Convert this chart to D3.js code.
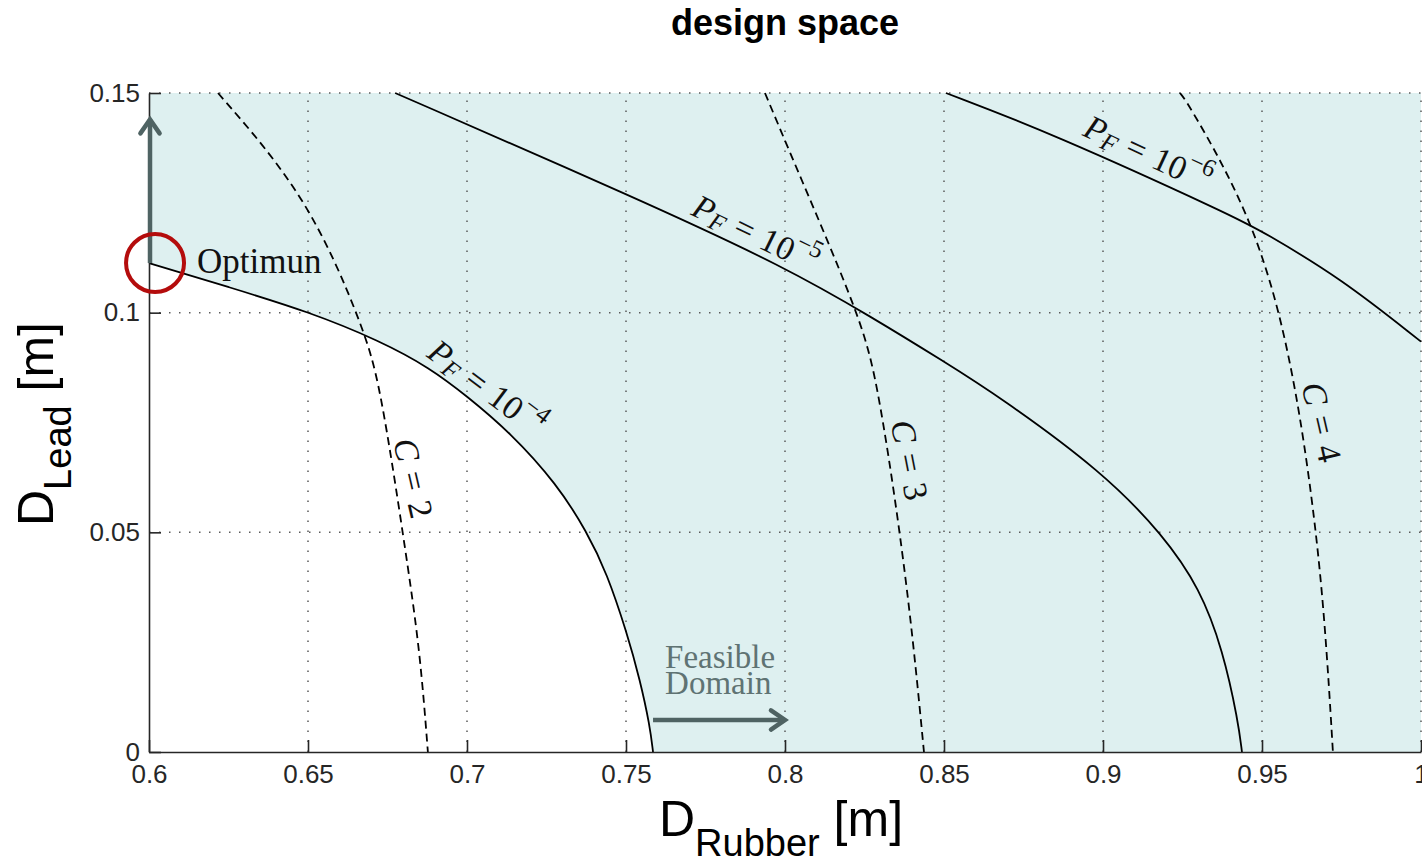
<!DOCTYPE html>
<html>
<head>
<meta charset="utf-8">
<script src="https://cdn.jsdelivr.net/npm/d3@7"></script>
<style>
  body { margin: 0; background: #fff; }
  svg { display: block; }
</style>
</head>
<body>
<div id="chart"></div>
<script>
// tick values and labels
var xTicks = [0.6, 0.65, 0.7, 0.75, 0.8, 0.85, 0.9, 0.95, 1.0];
var xTickLabels = ["0.6", "0.65", "0.7", "0.75", "0.8", "0.85", "0.9", "0.95", "1"];
var yTicks = [0, 0.05, 0.1, 0.15];
var yTickLabels = ["0", "0.05", "0.1", "0.15"];

// failure probability curves [D_rubber, D_lead]
var pf4 = [[0.6, 0.1113], [0.6252, 0.1058], [0.6503, 0.1002], [0.6726, 0.0936], [0.6884, 0.0874],
    [0.7, 0.0810], [0.7135, 0.0728], [0.7283, 0.0610], [0.7377, 0.0501], [0.744, 0.0407],
    [0.7503, 0.0271], [0.7544, 0.0164], [0.7575, 0.0060], [0.7585, 0]];
var pf5 = [[0.6774, 0.15], [0.7544, 0.1257], [0.8, 0.1104], [0.8277, 0.0988], [0.8497, 0.089],
    [0.8676, 0.0808], [0.9, 0.0637], [0.9189, 0.0494], [0.9305, 0.0372], [0.9377, 0.0232],
    [0.9425, 0.0070], [0.9437, 0]];
var pf6 = [[0.8506, 0.15], [0.8833, 0.141], [0.9421, 0.1216], [0.95, 0.1185], [0.9745, 0.108], [1.0, 0.0934]];

// cost curves (dashed)
var c2 = [[0.6217, 0.15], [0.65, 0.1264], [0.6673, 0.0968], [0.6726, 0.0841], [0.6805, 0.0467],
    [0.6852, 0.0232], [0.6877, 0]];
var c3 = [[0.7937, 0.15], [0.8038, 0.1326], [0.8236, 0.0991], [0.8289, 0.0847], [0.8358, 0.0522],
    [0.8403, 0.0255], [0.8437, 0]];
var c4 = [[0.9242, 0.15], [0.9267, 0.1478], [0.9472, 0.1216], [0.9588, 0.0916], [0.966, 0.0574],
    [0.9698, 0.0301], [0.9723, 0]];

// curve labels: [x, y, angle, kind, value]
var curveLabels = [
    [0.7063, 0.0830, 37, "P", "−4"],
    [0.7909, 0.1181, 26, "P", "−5"],
    [0.9142, 0.1364, 25, "P", "−6"],
    [0.6833, 0.0624, 77, "C", "2"],
    [0.8393, 0.0665, 79, "C", "3"],
    [0.9689, 0.0751, 77, "C", "4"]
];

var optimum = [0.6019, 0.1113];

var w = 1422, h = 864;
var svg = d3.select("#chart").append("svg").attr("width", w).attr("height", h);

var x = d3.scaleLinear().domain([0.6, 1.0]).range([149, 1421]);
var y = d3.scaleLinear().domain([0, 0.15]).range([752, 93]);

var line = d3.line().x(d => x(d[0])).y(d => y(d[1])).curve(d3.curveBasis);

// feasible domain shading (above pf4)
svg.append("path")
    .attr("d", line(pf4) + "L" + x(1.0) + "," + y(0) + "L" + x(1.0) + "," + y(0.15) +
        "L" + x(0.6) + "," + y(0.15) + "Z")
    .attr("fill", "#def0f0");

// grid
var grid = svg.append("g").attr("stroke", "#5a5a5a").attr("stroke-width", 1.5).attr("stroke-dasharray", "1.5,8.5");
xTicks.slice(1).forEach(function (t) {
    grid.append("line").attr("x1", x(t)).attr("x2", x(t)).attr("y1", y(0)).attr("y2", y(0.15));
});
yTicks.slice(1).forEach(function (t) {
    grid.append("line").attr("x1", x(0.6)).attr("x2", x(1.0)).attr("y1", y(t)).attr("y2", y(t));
});

// curves
[pf4, pf5, pf6].forEach(function (c) {
    svg.append("path").attr("d", line(c)).attr("fill", "none").attr("stroke", "#000").attr("stroke-width", 1.8);
});
[c2, c3, c4].forEach(function (c) {
    svg.append("path").attr("d", line(c)).attr("fill", "none").attr("stroke", "#000")
        .attr("stroke-width", 1.8).attr("stroke-dasharray", "8,5");
});

// axes
var xAxis = d3.axisBottom(x).tickValues(xTicks).tickFormat((d, i) => xTickLabels[i])
    .tickSizeInner(-12).tickSizeOuter(0).tickPadding(13);
var yAxis = d3.axisLeft(y).tickValues(yTicks).tickFormat((d, i) => yTickLabels[i])
    .tickSizeInner(-12).tickSizeOuter(0).tickPadding(9);

var gx = svg.append("g").attr("transform", "translate(0," + y(0) + ")").call(xAxis);
var gy = svg.append("g").attr("transform", "translate(" + x(0.6) + ",0)").call(yAxis);
[gx, gy].forEach(function (g) {
    g.selectAll("path, line").attr("stroke", "#262626").attr("stroke-width", 1.6);
    g.selectAll("text").attr("fill", "#262626").attr("font-family", "Liberation Sans, Arial, sans-serif").attr("font-size", "26px");
});

// curve labels
var serif = "Liberation Serif, Times New Roman, serif";
curveLabels.forEach(function (l) {
    var t = svg.append("text")
        .attr("transform", "translate(" + x(l[0]) + "," + y(l[1]) + ") rotate(" + l[2] + ")")
        .attr("text-anchor", "middle").attr("dominant-baseline", "central")
        .attr("font-family", serif).attr("font-size", "34px").attr("fill", "#111");
    if (l[3] == "P") {
        t.append("tspan").attr("font-style", "italic").text("P");
        t.append("tspan").attr("font-style", "italic").attr("font-size", "25px").attr("dy", 7).text("F");
        t.append("tspan").attr("dy", -7).attr("dx", 10).text("=");
        t.append("tspan").attr("dx", 10).text("10");
        t.append("tspan").attr("font-size", "25px").attr("dy", -13).text(l[4]);
    } else {
        t.append("tspan").attr("font-style", "italic").text("C");
        t.append("tspan").attr("dx", 11).text("=");
        t.append("tspan").attr("dx", 11).text(l[4]);
    }
});

// optimum marker
svg.append("text").attr("x", x(0.6151)).attr("y", y(0.109))
    .attr("font-family", serif).attr("font-size", "35px").attr("fill", "#111").text("Optimun");

// arrows
var arrowCol = "#4f6363";
function arrow(x1, y1, x2, y2) {
    var ang = Math.atan2(y2 - y1, x2 - x1), L = 17, a = 0.6;
    svg.append("line").attr("x1", x1).attr("y1", y1).attr("x2", x2).attr("y2", y2)
        .attr("stroke", arrowCol).attr("stroke-width", 4.5);
    svg.append("path")
        .attr("d", "M " + (x2 - L * Math.cos(ang - a)) + " " + (y2 - L * Math.sin(ang - a)) +
            " L " + x2 + " " + y2 + " L " + (x2 - L * Math.cos(ang + a)) + " " + (y2 - L * Math.sin(ang + a)))
        .attr("fill", "none").attr("stroke", arrowCol).attr("stroke-width", 4.5).attr("stroke-linecap", "round");
}
arrow(x(0.6) + 1, y(0.1113), x(0.6) + 1, y(0.1440));
arrow(x(0.7585), y(0.0073), x(0.8), y(0.0073));

svg.append("circle").attr("cx", x(optimum[0])).attr("cy", y(optimum[1])).attr("r", 29)
    .attr("fill", "none").attr("stroke", "#b40c0c").attr("stroke-width", 4);

var fd = svg.append("text").attr("font-family", serif).attr("font-size", "33px").attr("fill", "#5f7373");
fd.append("tspan").attr("x", x(0.7623)).attr("y", y(0.0191)).text("Feasible");
fd.append("tspan").attr("x", x(0.7623)).attr("y", y(0.0132)).text("Domain");

// titles
var sans = "Liberation Sans, Arial, Helvetica, sans-serif";
svg.append("text").attr("x", 785).attr("y", 35).attr("text-anchor", "middle")
    .attr("font-family", sans).attr("font-weight", "bold").attr("font-size", "36px").attr("fill", "#000")
    .text("design space");

var xl = svg.append("text").attr("x", 781).attr("y", 836).attr("text-anchor", "middle")
    .attr("font-family", sans).attr("font-size", "50px").attr("fill", "#000");
xl.append("tspan").text("D");
xl.append("tspan").attr("font-size", "38px").attr("dy", 20).text("Rubber");
xl.append("tspan").attr("dy", -20).text(" [m]");

var yl = svg.append("text").attr("transform", "translate(53,424) rotate(-90)").attr("text-anchor", "middle")
    .attr("font-family", sans).attr("font-size", "50px").attr("fill", "#000");
yl.append("tspan").text("D");
yl.append("tspan").attr("font-size", "38px").attr("dy", 18).text("Lead");
yl.append("tspan").attr("dy", -18).text(" [m]");
</script>
</body>
</html>
